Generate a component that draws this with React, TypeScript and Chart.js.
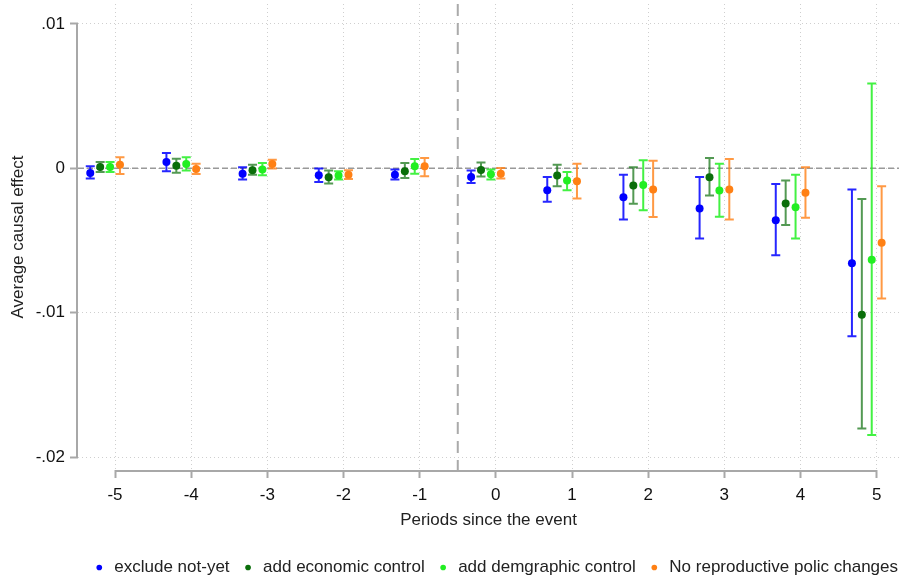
import { useEffect, useRef } from "react";
import { Chart, registerables } from "chart.js";

Chart.register(...registerables);

// ---- data ----
const periods = [-5, -4, -3, -2, -1, 0, 1, 2, 3, 4, 5];
const yTickValues = [-0.02, -0.01, 0, 0.01];
const yTickLabels = ["-.02", "-.01", "0", ".01"];

const seriesNames = [
  "exclude not-yet",
  "add economic control",
  "add demgraphic control",
  "No reproductive polic changes",
];

const excludeEst = [-0.00032, 0.00044, -0.00037, -0.00048, -0.00044, -0.0006, -0.00152, -0.002, -0.00278, -0.00359, -0.00657];
const excludeLo = [-0.00071, -0.00021, -0.00078, -0.00094, -0.00078, -0.00101, -0.00232, -0.00354, -0.00487, -0.00602, -0.01163];
const excludeHi = [0.00014, 0.00106, 0.00007, -0.00002, -0.00009, -0.00016, -0.0006, -0.00044, -0.0006, -0.00108, -0.00147];

const econEst = [0.00009, 0.00018, -0.00014, -0.00062, -0.00021, -0.00012, -0.0005, -0.00119, -0.00062, -0.00244, -0.01014];
const econLo = [-0.00026, -0.0003, -0.00044, -0.00106, -0.00067, -0.00057, -0.00124, -0.00246, -0.00188, -0.00393, -0.01802];
const econHi = [0.00044, 0.00067, 0.00025, -0.00016, 0.00037, 0.00041, 0.00025, 0.00007, 0.00071, -0.00085, -0.00212];

const demoEst = [0.00009, 0.0003, -0.00009, -0.0005, 0.00014, -0.00042, -0.00085, -0.00115, -0.00154, -0.00269, -0.00634];
const demoLo = [-0.00026, -0.00016, -0.00048, -0.00078, -0.00037, -0.00078, -0.00152, -0.0029, -0.00336, -0.00487, -0.01848];
const demoHi = [0.00044, 0.00076, 0.00037, -0.00021, 0.00064, -0.00009, -0.00026, 0.00055, 0.00032, -0.00044, 0.00588];

const reproEst = [0.00025, -0.00005, 0.0003, -0.00044, 0.00014, -0.00037, -0.0009, -0.00147, -0.00147, -0.0017, -0.00515];
const reproLo = [-0.00039, -0.00039, -0.00002, -0.00074, -0.00055, -0.00071, -0.00209, -0.00338, -0.00354, -0.00343, -0.00901];
const reproHi = [0.00076, 0.00032, 0.0006, -0.00014, 0.00071, 0.00002, 0.00032, 0.00053, 0.00064, 0.00007, -0.00124];

// ---- styles ----
const seriesColors = ["#0000ff", "#0a6e0a", "#22ee22", "#ff8014"];
const barColors = ["rgba(0,0,255,0.85)", "rgba(10,110,10,0.7)", "rgba(34,238,34,0.85)", "rgba(255,128,20,0.8)"];
const seriesOffsets = [-0.325, -0.195, -0.065, 0.065];
const FONT = "'Liberation Sans', Arial, sans-serif";

const estimates = [excludeEst, econEst, demoEst, reproEst];
const lows = [excludeLo, econLo, demoLo, reproLo];
const highs = [excludeHi, econHi, demoHi, reproHi];

const decorPlugin = {
  id: "decor",
  beforeDatasetsDraw(chart: any) {
    const { ctx, chartArea } = chart;
    const xs = chart.scales.x;
    const ys = chart.scales.y;
    ctx.save();
    // axis lines
    ctx.strokeStyle = "#a8a8a8";
    ctx.lineWidth = 2;
    ctx.setLineDash([]);
    ctx.beginPath();
    ctx.moveTo(chartArea.left - 1, ys.getPixelForValue(yTickValues[yTickValues.length - 1]));
    ctx.lineTo(chartArea.left - 1, ys.getPixelForValue(yTickValues[0]));
    ctx.stroke();
    ctx.beginPath();
    ctx.moveTo(xs.getPixelForValue(periods[0]), chartArea.bottom + 1);
    ctx.lineTo(xs.getPixelForValue(periods[periods.length - 1]), chartArea.bottom + 1);
    ctx.stroke();
    // zero reference line
    ctx.strokeStyle = "#999999";
    ctx.lineWidth = 1.5;
    ctx.setLineDash([6, 3]);
    const y0 = ys.getPixelForValue(0);
    ctx.beginPath();
    ctx.moveTo(chartArea.left, y0);
    ctx.lineTo(chartArea.right, y0);
    ctx.stroke();
    // event line
    ctx.strokeStyle = "#aaaaaa";
    ctx.lineWidth = 2;
    ctx.setLineDash([12, 7]);
    const xe = xs.getPixelForValue(-0.5);
    ctx.beginPath();
    ctx.moveTo(xe, chartArea.top);
    ctx.lineTo(xe, chartArea.bottom);
    ctx.stroke();
    // error bars
    ctx.setLineDash([]);
    ctx.lineWidth = 2;
    for (let s = 0; s < estimates.length; s++) {
      ctx.strokeStyle = barColors[s];
      for (let j = 0; j < periods.length; j++) {
        const px = xs.getPixelForValue(periods[j] + seriesOffsets[s]);
        const pLo = ys.getPixelForValue(lows[s][j]);
        const pHi = ys.getPixelForValue(highs[s][j]);
        ctx.beginPath();
        ctx.moveTo(px, pLo);
        ctx.lineTo(px, pHi);
        ctx.moveTo(px - 4.5, pLo);
        ctx.lineTo(px + 4.5, pLo);
        ctx.moveTo(px - 4.5, pHi);
        ctx.lineTo(px + 4.5, pHi);
        ctx.stroke();
      }
    }
    ctx.restore();
  },
};

export default function App() {
  const ref = useRef<HTMLCanvasElement | null>(null);
  useEffect(() => {
    document.body.style.margin = "0";
    const canvas = ref.current;
    if (!canvas) return;
    const datasets = estimates.map((est, s) => ({
      label: seriesNames[s],
      data: periods.map((p, j) => ({ x: p + seriesOffsets[s], y: est[j] })),
      backgroundColor: seriesColors[s],
      borderColor: seriesColors[s],
      pointBackgroundColor: seriesColors[s],
      pointBorderWidth: 0,
      borderWidth: 0,
      pointRadius: 4,
      showLine: false,
    }));
    const chart = new Chart(canvas, {
      type: "scatter",
      data: { datasets },
      plugins: [decorPlugin],
      options: {
        animation: false,
        responsive: false,
        devicePixelRatio: 1,
        layout: { padding: { top: 0, right: -7, bottom: -9, left: 0 } },
        plugins: {
          tooltip: { enabled: false },
          legend: {
            position: "bottom",
            align: "end",
            labels: {
              usePointStyle: true,
              pointStyle: "circle",
              boxHeight: 4,
              boxWidth: 13,
              padding: 12,
              color: "#222",
              font: { family: FONT, size: 17 },
            },
          },
        },
        scales: {
          x: {
            type: "linear",
            min: -5.486,
            max: 5.293,
            afterBuildTicks: (scale: any) => {
              scale.ticks = periods.map((v) => ({ value: v }));
            },
            afterFit: (scale: any) => {
              scale.height = 77;
              scale.paddingLeft = 0;
              scale.paddingRight = 0;
            },
            ticks: {
              color: "#111",
              font: { family: FONT, size: 17 },
              padding: 7,
              maxRotation: 0,
              callback: (v: any) => String(v),
            },
            grid: {
              color: "#cfcfcf",
              lineWidth: 1,
              tickLength: 8,
              tickColor: "#a8a8a8",
              tickWidth: 2,
            },
            border: { display: false, dash: [1, 3] },
            title: {
              display: true,
              text: "Periods since the event",
              color: "#222",
              font: { family: FONT, size: 17 },
              padding: { top: 0, bottom: 16 },
            },
          },
          y: {
            type: "linear",
            min: -0.020896,
            max: 0.01138,
            afterBuildTicks: (scale: any) => {
              scale.ticks = yTickValues.map((v) => ({ value: v }));
            },
            afterFit: (scale: any) => {
              scale.width = 78;
              scale.paddingTop = 0;
              scale.paddingBottom = 0;
            },
            ticks: {
              color: "#111",
              font: { family: FONT, size: 17 },
              padding: 5,
              callback: (v: any) => {
                const i = yTickValues.findIndex((t) => Math.abs(t - Number(v)) < 1e-9);
                return i >= 0 ? yTickLabels[i] : "";
              },
            },
            grid: {
              color: "#cfcfcf",
              lineWidth: 1,
              tickLength: 8,
              tickColor: "#a8a8a8",
              tickWidth: 2,
            },
            border: { display: false, dash: [1, 3] },
            title: {
              display: true,
              text: "Average causal effect",
              color: "#222",
              font: { family: FONT, size: 17 },
              padding: { top: 8, bottom: 0 },
            },
          },
        },
      },
    } as any);
    return () => chart.destroy();
  }, []);
  return (
    <div style={{ width: 903, height: 577 }}>
      <canvas ref={ref} width={903} height={577} style={{ display: "block" }} />
    </div>
  );
}
